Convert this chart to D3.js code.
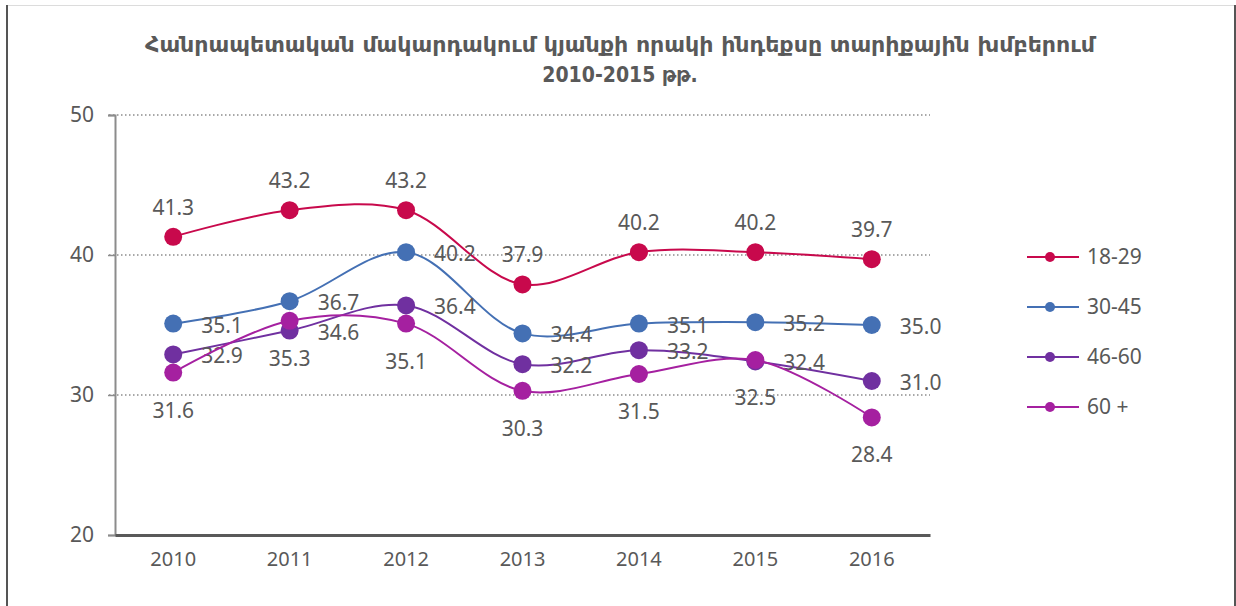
<!DOCTYPE html>
<html>
<head>
<meta charset="utf-8">
<script src="https://cdn.jsdelivr.net/npm/d3@7"></script>
<style>
  body { margin: 0; background: #fff; }
  svg text { fill: #595959; }
</style>
</head>
<body>
<div id="chart"></div>
<script>
// data
const years = ["2010","2011","2012","2013","2014","2015","2016"];
const groups = ["18-29","30-45","46-60","60 +"];
const g1829 = [41.3, 43.2, 43.2, 37.9, 40.2, 40.2, 39.7];
const g3045 = [35.1, 36.7, 40.2, 34.4, 35.1, 35.2, 35.0];
const g4660 = [32.9, 34.6, 36.4, 32.2, 33.2, 32.4, 31.0];
const g60 = [31.6, 35.3, 35.1, 30.3, 31.5, 32.5, 28.4];
const yTicks = [20, 30, 40, 50];
const titleLines = ["Հանրապետական մակարդակում կյանքի որակի ինդեքսը տարիքային խմբերում", "2010-2015 թթ."];

const seriesValues = [g1829, g3045, g4660, g60];
const colors = ["#c8094c", "#4470b4", "#7030a0", "#a520a0"];
const labelPos = ["above", "right", "right", "below"];

const W = 1236, H = 606;
const plotLeft = 115, plotRight = 930, plotTop = 115, plotBottom = 535;
const font = "'Noto Sans', 'DejaVu Sans', sans-serif";

const svg = d3.select("#chart").append("svg")
    .attr("width", W).attr("height", H)
    .style("font-family", font);

// frame
svg.append("line").attr("x1", 7).attr("x2", 1235).attr("y1", 5.5).attr("y2", 5.5)
    .attr("stroke", "#dcdcdc").attr("stroke-width", 1);
svg.append("line").attr("x1", 7).attr("x2", 7).attr("y1", 5).attr("y2", H)
    .attr("stroke", "#555").attr("stroke-width", 2);
svg.append("line").attr("x1", 1235).attr("x2", 1235).attr("y1", 5).attr("y2", H)
    .attr("stroke", "#555").attr("stroke-width", 2);

// title
svg.selectAll("text.title")
    .data(titleLines)
    .join("text")
    .attr("class", "title")
    .attr("x", 620)
    .attr("y", (d, i) => 52 + i * 30)
    .attr("text-anchor", "middle")
    .attr("font-family", "'DejaVu Sans Condensed', 'DejaVu Sans', sans-serif")
    .attr("font-weight", 700)
    .attr("font-size", 21)
    .attr("textLength", (d, i) => i === 0 ? 950 : null)
    .attr("lengthAdjust", "spacingAndGlyphs")
    .text(d => d);

// scales
const x = d3.scaleBand().domain(years).range([plotLeft, plotRight]);
const y = d3.scaleLinear().domain([20, 50]).range([plotBottom, plotTop]);
const xc = d => x(d) + x.bandwidth() / 2;

// grid
svg.append("g")
    .selectAll("line")
    .data(yTicks.filter(t => t > 20))
    .join("line")
    .attr("x1", plotLeft - 6).attr("x2", plotRight)
    .attr("y1", d => y(d)).attr("y2", d => y(d))
    .attr("stroke", "#8c8c8c")
    .attr("stroke-width", 1.5)
    .attr("stroke-dasharray", "1.5,2.5");

// y axis
const yAxis = svg.append("g")
    .attr("transform", `translate(${plotLeft},0)`)
    .call(d3.axisLeft(y).tickValues(yTicks).tickSize(7).tickPadding(14));
yAxis.select(".domain").attr("stroke", "#8c8c8c").attr("stroke-width", 2);
yAxis.selectAll(".tick line").attr("stroke", "#8c8c8c").attr("stroke-width", 1.5);
yAxis.selectAll(".tick text").attr("font-size", 21).attr("font-family", font).attr("fill", "#595959");

// x axis
const xAxis = svg.append("g")
    .attr("transform", `translate(0,${plotBottom})`)
    .call(d3.axisBottom(x).tickSize(0).tickPadding(17));
xAxis.select(".domain").attr("stroke", "#595959").attr("stroke-width", 3);
xAxis.selectAll(".tick text").attr("font-size", 20).attr("font-family", font).attr("fill", "#595959");

// lines
const line = d3.line()
    .x((d, i) => xc(years[i]))
    .y(d => y(d))
    .curve(d3.curveCatmullRom.alpha(0.5));

const series = svg.append("g").selectAll("g")
    .data(seriesValues)
    .join("g");

series.append("path")
    .attr("d", d => line(d))
    .attr("fill", "none")
    .attr("stroke", (d, i) => colors[i])
    .attr("stroke-width", 2);

series.each(function(vals, si) {
    d3.select(this).selectAll("circle")
        .data(vals)
        .join("circle")
        .attr("cx", (d, i) => xc(years[i]))
        .attr("cy", d => y(d))
        .attr("r", 9)
        .attr("fill", colors[si]);
});

// data labels
series.each(function(vals, si) {
    const pos = labelPos[si];
    d3.select(this).selectAll("text")
        .data(vals)
        .join("text")
        .attr("x", (d, i) => xc(years[i]) + (pos === "right" ? 28 : 0))
        .attr("y", d => y(d) + (pos === "above" ? -22 : pos === "below" ? 45 : 9))
        .attr("text-anchor", pos === "right" ? "start" : "middle")
        .attr("font-size", 21)
        .text(d => d.toFixed(1));
});

// legend
const legend = svg.append("g").selectAll("g")
    .data(groups)
    .join("g")
    .attr("transform", (d, i) => `translate(1027,${257 + i * 50})`);
legend.append("line")
    .attr("x1", 0).attr("x2", 52)
    .attr("stroke", (d, i) => colors[i]).attr("stroke-width", 2);
legend.append("circle")
    .attr("cx", 23).attr("r", 5)
    .attr("fill", (d, i) => colors[i]);
legend.append("text")
    .attr("x", 60).attr("y", 7)
    .attr("font-size", 21)
    .text(d => d);
</script>
</body>
</html>
